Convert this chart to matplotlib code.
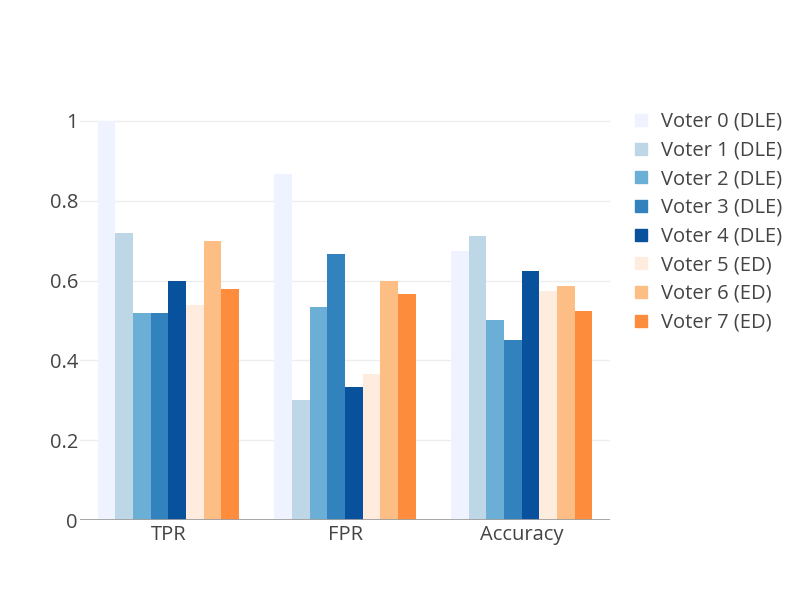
import matplotlib
matplotlib.use("Agg")
import matplotlib.pyplot as plt
from matplotlib.lines import Line2D
import numpy as np

categories = ["TPR", "FPR", "Accuracy"]
voters = ["Voter 0 (DLE)", "Voter 1 (DLE)", "Voter 2 (DLE)", "Voter 3 (DLE)",
          "Voter 4 (DLE)", "Voter 5 (ED)", "Voter 6 (ED)", "Voter 7 (ED)"]
values = {
    "Voter 0 (DLE)": [1.0, 0.8667, 0.675],
    "Voter 1 (DLE)": [0.72, 0.30, 0.7125],
    "Voter 2 (DLE)": [0.52, 0.5333, 0.50],
    "Voter 3 (DLE)": [0.52, 0.6667, 0.45],
    "Voter 4 (DLE)": [0.60, 0.3333, 0.625],
    "Voter 5 (ED)": [0.54, 0.3667, 0.575],
    "Voter 6 (ED)": [0.70, 0.60, 0.5875],
    "Voter 7 (ED)": [0.58, 0.5667, 0.525],
}
colors = ["#eff3ff", "#bdd7e7", "#6baed6", "#3182bd", "#08519c",
          "#feedde", "#fdbe85", "#fd8d3c"]
yticks = [0, 0.2, 0.4, 0.6, 0.8, 1]
ytick_labels = ["0", "0.2", "0.4", "0.6", "0.8", "1"]

plt.rcParams['font.family'] = ['Open Sans', 'DejaVu Sans']
text_color = "#444444"
fs = 14.5

fig = plt.figure(figsize=(8, 6), dpi=100)
ax = fig.add_axes([80/800, 80/600, 530/800, 420/600])

n = len(voters)
group_w = 0.8
bw = group_w / n
x = np.arange(len(categories))
for i, v in enumerate(voters):
    off = -group_w/2 + bw*(i + 0.5)
    ax.bar(x + off, values[v], width=bw, color=colors[i], linewidth=0, zorder=2)

ax.set_xlim(-0.5, len(categories) - 0.5)
ax.set_ylim(0, 1.0526)
ax.set_yticks(yticks)
ax.set_yticklabels(ytick_labels)
ax.set_xticks(x)
ax.set_xticklabels(categories)
ax.tick_params(axis='both', length=0, labelsize=fs, colors=text_color)
ax.tick_params(axis='y', pad=1.5)
ax.tick_params(axis='x', pad=3.5)
for s in ax.spines.values():
    s.set_visible(False)
ax.grid(axis='y', color='#eeeeee', linewidth=1, zorder=0)
ax.set_axisbelow(True)
ax.axhline(0, color='#a0a0a0', linewidth=2, zorder=3)

handles = [Line2D([0], [0], marker='s', linestyle='none', markersize=8.6,
                  markerfacecolor=c, markeredgecolor=c) for c in colors]
leg = fig.legend(handles, voters, loc='upper left', bbox_to_anchor=(633/800, 1 - 112/600),
                 frameon=False, fontsize=fs, labelspacing=0.43, handlelength=0.8,
                 handletextpad=0.6, borderaxespad=0, borderpad=0)
for t in leg.get_texts():
    t.set_color(text_color)

fig.savefig("out.png", dpi=100)
